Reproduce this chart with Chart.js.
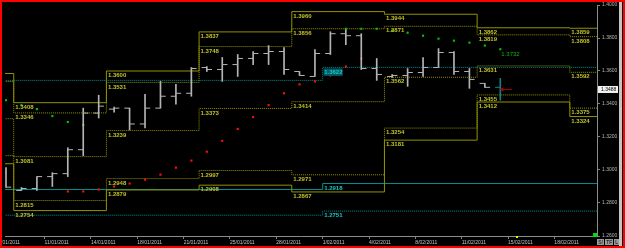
<!DOCTYPE html>
<html>
<head>
<meta charset="utf-8">
<title>EUR/USD daily with weekly and monthly levels</title>
<script src="https://cdn.jsdelivr.net/npm/chart.js@4.4.1/dist/chart.umd.min.js"></script>
<style>
  html, body { margin: 0; padding: 0; background: #000; overflow: hidden; }
  canvas { display: block; }
</style>
</head>
<body>
<canvas id="priceChart" width="625" height="248"></canvas>
<script>
// Daily OHLC bars, bar 0 = Fri 7/01/2011 (Sunday sessions count as bars)
const barOpen  = [1.2984, 1.2876, 1.2888, 1.2960, 1.2978, 1.3123, 1.3345, 1.3369, 1.3375, 1.3279, 1.3375, 1.3447, 1.3465, 1.3621, 1.3609, 1.3639, 1.3676, 1.3706, 1.3718, 1.3597, 1.3567, 1.3706, 1.3826, 1.3814, 1.3615, 1.3567, 1.3573, 1.3591, 1.3621, 1.3712, 1.3597, 1.3525, 1.3501];
const barHigh  = [1.3015, 1.2894, 1.2960, 1.2984, 1.3135, 1.3375, 1.3453, 1.3381, 1.3375, 1.3459, 1.3537, 1.3519, 1.3621, 1.3627, 1.3682, 1.3700, 1.3718, 1.3754, 1.3742, 1.3597, 1.3730, 1.3838, 1.3850, 1.3826, 1.3676, 1.3579, 1.3615, 1.3682, 1.3736, 1.3718, 1.3615, 1.3525, 1.3555];
const barLow   = [1.2894, 1.2876, 1.2876, 1.2900, 1.2960, 1.3087, 1.3315, 1.3351, 1.3243, 1.3255, 1.3375, 1.3399, 1.3447, 1.3597, 1.3537, 1.3567, 1.3639, 1.3639, 1.3579, 1.3573, 1.3567, 1.3700, 1.3760, 1.3609, 1.3543, 1.3561, 1.3507, 1.3567, 1.3621, 1.3579, 1.3495, 1.3501, 1.3423];
const barClose = [1.2896, 1.2888, 1.2960, 1.2978, 1.3123, 1.3345, 1.3387, 1.3375, 1.3279, 1.3375, 1.3447, 1.3465, 1.3615, 1.3609, 1.3639, 1.3676, 1.3706, 1.3718, 1.3609, 1.3573, 1.3706, 1.3826, 1.3814, 1.3615, 1.3579, 1.3573, 1.3591, 1.3621, 1.3712, 1.3597, 1.3549, 1.3501, 1.3488];

// parabolic SAR dots (null = no dot on that bar)
const sarAbove = [1.3423, 1.3393, 1.3369, 1.3327, 1.3291, 1.3273, null, null, null, null, null, null, null, null, null, null, null, null, null, null, null, null, 1.3856, 1.3856, 1.3856, 1.3844, 1.3832, 1.3814, 1.3796, 1.3784, 1.3772, 1.3754, 1.3732];
const sarBelow = [null, null, null, null, 1.2870, 1.2870, 1.2882, 1.2900, 1.2918, 1.2942, 1.2972, 1.3014, 1.3057, 1.3111, 1.3177, 1.3249, 1.3321, 1.3393, 1.3465, 1.3519, 1.3537, 1.3573, 1.3627, 1.3675, null, null, null, null, null, null, null, null, null];

// weekly levels, each week starts on the Sunday bar
const weekStart = [-0.5, 0.5, 6.5, 12.5, 18.5, 24.5, 30.5, 36.5];
const weekHigh  = [1.3585, 1.3408, 1.3600, 1.3837, 1.3960, 1.3944, 1.3862, 1.3859];
const weekUpper = [1.3536, 1.3346, 1.3531, 1.3748, 1.3856, 1.3871, 1.3819, 1.3808];
const weekMid   = [1.3311, 1.3081, 1.3239, 1.3373, 1.3414, 1.3562, 1.3631, 1.3592];
const weekLower = [1.3087, 1.2815, 1.2948, 1.2997, 1.2971, 1.3254, 1.3455, 1.3375];
const weekLow   = [1.3038, 1.2754, 1.2879, 1.2908, 1.2867, 1.3181, 1.3412, 1.3324];

// monthly levels (January, February)
const monthStart = [-0.5, 20.5];
const monthUpper = [1.3543, 1.3622];
const monthPivot = [1.2882, 1.2918];
const monthLower = [1.2726, 1.2751];

const priceTicks = [1.26, 1.28, 1.30, 1.32, 1.34, 1.36, 1.38, 1.40];
const dateBars   = [0, 3, 6, 9, 12, 15, 18, 21, 24, 27, 30, 33, 36];
const dateLabels = ['7/01/2011', '11/01/2011', '14/01/2011', '18/01/2011', '21/01/2011', '25/01/2011', '28/01/2011',
                    '1/02/2011', '4/02/2011', '8/02/2011', '11/02/2011', '15/02/2011', '18/02/2011'];

const X_MIN = -0.065, X_MAX = 38.26;
const lastBar = barClose.length - 1;
const barColor = '#b4b4b4', liveColor = '#0d8088';
const yellowLine = '#929200', yellowText = '#c2c22c';
const cyanLine = '#008f92', cyanText = '#18c8c8';
const FONT = '"Liberation Sans", Arial, sans-serif';

function stepData(starts, vals) {
    const pts = starts.map((s, k) => ({ x: s, y: vals[k] }));
    pts.push({ x: X_MAX + 1, y: vals[vals.length - 1] });
    return pts;
}

function levelLine(starts, vals, color, dotted) {
    return {
        type: 'line', data: stepData(starts, vals), stepped: true,
        borderColor: color, borderWidth: 1, borderDash: dotted ? [1, 1] : [],
        pointRadius: 0, fill: false, order: 5
    };
}

function dots(vals) {
    return vals.map((v, i) => v === null ? null : { x: i, y: v }).filter(p => p);
}

const tickColors = barClose.map((_, i) => i === lastBar ? liveColor : barColor);

const overlay = {
    id: 'overlay',
    afterDatasetsDraw(chart) {
        const { ctx, chartArea: a, scales: { x, y } } = chart;
        ctx.save();
        ctx.beginPath();
        ctx.rect(a.left, a.top, a.right - a.left, a.bottom - a.top);
        ctx.clip();
        ctx.textBaseline = 'top';
        ctx.font = 'bold 6px ' + FONT;
        ctx.fillStyle = yellowText;
        [weekHigh, weekUpper, weekMid, weekLower, weekLow].forEach(levels => {
            levels.forEach((v, k) => {
                if (weekStart[k] < X_MIN) return;
                ctx.fillText(v.toFixed(4), x.getPixelForValue(weekStart[k]) + 1.5, y.getPixelForValue(v) + 1.5);
            });
        });
        // monthly labels, first one on a teal plate
        monthStart.forEach((s, k) => {
            if (s < X_MIN) return;
            const px = x.getPixelForValue(s) + 1.5;
            const pu = y.getPixelForValue(monthUpper[k]) + 1;
            ctx.fillStyle = '#005a62';
            ctx.fillRect(px - 0.5, pu, 19, 7.5);
            ctx.fillStyle = cyanText;
            ctx.fillText(monthUpper[k].toFixed(4), px, pu + 0.5);
            ctx.fillText(monthPivot[k].toFixed(4), px, y.getPixelForValue(monthPivot[k]) + 1.5);
            ctx.fillText(monthLower[k].toFixed(4), px, y.getPixelForValue(monthLower[k]) + 1.5);
        });
        // last SAR value
        const sarLast = sarAbove[lastBar];
        ctx.font = '6px ' + FONT;
        ctx.fillStyle = '#16b016';
        ctx.fillText(sarLast.toFixed(4), x.getPixelForValue(lastBar) + 1, y.getPixelForValue(sarLast) + 2.5);
        ctx.restore();
    },
    afterDraw(chart) {
        const { ctx, scales: { x, y } } = chart;
        const W = chart.width, H = chart.height;
        ctx.save();
        // partly hidden first date label
        ctx.font = '5px ' + FONT;
        ctx.fillStyle = '#c0c0c0';
        ctx.textBaseline = 'top';
        ctx.fillText(dateLabels[0], x.getPixelForValue(dateBars[0] - 0.5), 240);
        // current price on the axis
        const last = barClose[lastBar];
        const py = y.getPixelForValue(last);
        ctx.fillStyle = '#f2f2f2';
        ctx.fillRect(598, py - 3.5, 20, 7);
        ctx.fillStyle = '#000';
        ctx.textBaseline = 'middle';
        ctx.fillText(last.toFixed(4), 601, py + 0.5);
        // scroll strip at the right
        ctx.fillStyle = '#c4c4c4';
        ctx.fillRect(619, 0, 3, H);
        // small corner widgets
        ctx.fillStyle = '#00e000';
        ctx.fillRect(593, 233, 4, 4);
        ctx.fillStyle = '#f0f000';
        ctx.fillRect(516, 236, 2, 2);
        [['S!', 597, 7], ['TF', 605, 8], ['L', 614, 5]].forEach(([t, bx, bw]) => {
            ctx.fillStyle = '#9a9a9a';
            ctx.fillRect(bx, 239, bw, 6);
            ctx.fillStyle = '#000';
            ctx.fillText(t, bx + 1.2, 242.3);
        });
        // red window frame
        ctx.strokeStyle = '#ff0000';
        ctx.lineWidth = 2;
        ctx.strokeRect(1, 1, W - 2, H - 2);
        ctx.restore();
    }
};

new Chart(document.getElementById('priceChart'), {
    type: 'bar',
    data: {
        datasets: [
            {
                type: 'bar', label: 'range',
                data: barHigh.map((h, i) => ({ x: i, y: [barLow[i], h] })),
                backgroundColor: tickColors, borderWidth: 0, barThickness: 1, order: 1
            },
            {
                type: 'scatter', label: 'open',
                data: barOpen.map((v, i) => ({ x: i - 0.17, y: v })),
                pointStyle: 'line', pointRadius: 2.6, pointBorderWidth: 1,
                pointBorderColor: tickColors, pointBackgroundColor: tickColors, order: 1
            },
            {
                type: 'scatter', label: 'close',
                data: barClose.map((v, i) => ({ x: i + 0.17, y: v })),
                pointStyle: 'line', pointRadius: 2.6, pointBorderWidth: 1,
                pointBorderColor: tickColors, pointBackgroundColor: tickColors, order: 1
            },
            {
                type: 'scatter', label: 'sar above', data: dots(sarAbove),
                pointStyle: 'rect', pointRadius: 1.5, pointBorderWidth: 0,
                pointBackgroundColor: '#00c800', order: 2
            },
            {
                type: 'scatter', label: 'sar below', data: dots(sarBelow),
                pointStyle: 'rect', pointRadius: 1.5, pointBorderWidth: 0,
                pointBackgroundColor: '#ff1010', order: 2
            },
            {
                type: 'line', label: 'price arrow',
                data: [{ x: lastBar + 0.12, y: barClose[lastBar] }, { x: lastBar + 0.75, y: barClose[lastBar] }],
                borderColor: '#a00000', borderWidth: 1, pointStyle: 'triangle', pointRotation: -90,
                pointRadius: [2.5, 0], pointBackgroundColor: '#b00000', pointBorderWidth: 0, order: 0
            },
            levelLine(weekStart, weekHigh, yellowLine, false),
            levelLine(weekStart, weekUpper, yellowLine, true),
            levelLine(weekStart, weekMid, yellowLine, true),
            levelLine(weekStart, weekLower, yellowLine, true),
            levelLine(weekStart, weekLow, yellowLine, false),
            levelLine(monthStart, monthUpper, cyanLine, true),
            levelLine(monthStart, monthPivot, cyanLine, false),
            levelLine(monthStart, monthLower, cyanLine, true)
        ]
    },
    options: {
        responsive: false,
        animation: false,
        events: [],
        layout: { padding: { top: 3, left: 3, right: 0, bottom: 0 } },
        plugins: { legend: { display: false }, tooltip: { enabled: false } },
        scales: {
            x: {
                type: 'linear', min: X_MIN, max: X_MAX, offset: false,
                afterFit(s) { s.height = 12; },
                afterBuildTicks(s) {
                    s.ticks = dateBars.map(b => b - 0.5).filter(v => v >= X_MIN).map(v => ({ value: v }));
                },
                ticks: {
                    callback: v => dateLabels[dateBars.indexOf(Math.round(v + 0.5))],
                    align: 'start', autoSkip: false, maxRotation: 0, padding: 1,
                    color: '#c0c0c0', font: { size: 5, family: FONT }
                },
                grid: { offset: false, drawOnChartArea: false, tickLength: 3, color: '#808080' },
                border: { color: '#8c8c8c' }
            },
            y: {
                type: 'linear', position: 'right', min: 1.26, max: 1.40,
                afterFit(s) { s.width = 28; },
                afterBuildTicks(s) { s.ticks = priceTicks.map(v => ({ value: v })); },
                ticks: {
                    callback: v => v.toFixed(4), padding: 2,
                    color: '#b8b8b8', font: { size: 5, family: FONT }
                },
                grid: { drawOnChartArea: false, tickLength: 3, color: '#808080' },
                border: { color: '#8c8c8c' }
            }
        }
    },
    plugins: [overlay]
});
</script>
</body>
</html>
